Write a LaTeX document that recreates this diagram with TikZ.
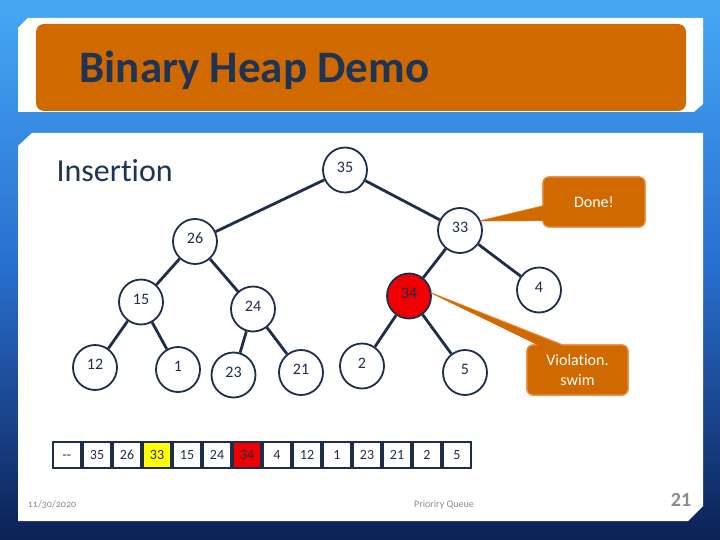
\documentclass[tikz,border=0pt]{standalone}
\usepackage{fontspec}
\setmainfont{Carlito}[Ligatures={NoCommon}]
\usetikzlibrary{shapes.geometric,calc}
\definecolor{navy}{RGB}{30,45,75}
\definecolor{titlenavy}{RGB}{31,52,84}
\definecolor{orng}{RGB}{208,105,0}
\definecolor{orngb}{RGB}{236,140,70}
\definecolor{bgtop}{RGB}{70,168,245}
\definecolor{bgmid}{RGB}{40,110,205}
\definecolor{bgbot}{RGB}{12,33,85}
\definecolor{foot}{RGB}{140,140,140}
\definecolor{redfill}{RGB}{240,0,0}
\definecolor{yel}{RGB}{255,255,0}
\begin{document}
\begin{tikzpicture}[x=1pt,y=-1pt,
  hnode/.style={ellipse, draw=navy, line width=1.8pt, fill=white, minimum width=44pt, minimum height=45pt, inner sep=0pt, font=\fontsize{16}{16}\selectfont, text=navy, text height=8pt, text depth=3.7pt},
  edge/.style={draw=navy, line width=2.8pt},
  cell/.style={rectangle, draw=navy, line width=2.2pt, fill=white, minimum width=28pt, minimum height=26pt, inner sep=0pt, font=\fontsize{14}{14}\selectfont, text=navy, text height=9pt, text depth=0pt},
  callout/.style={rectangle, rounded corners=6pt, fill=orng, draw=orngb, line width=1.2pt, text=white, align=center, font=\fontsize{16}{20}\selectfont, inner sep=0pt},
  wedge/.style={fill=orng, draw=orngb, line width=1.2pt, line join=round}
]
\useasboundingbox (0,0) rectangle (720,540);
\shade[top color=bgtop, bottom color=bgbot, middle color=bgmid] (0,0) rectangle (720,540);
% title panel
\fill[white] (18,28) -- (28,18) -- (703,18) -- (703,104) -- (694,112) -- (18,112) -- cycle;
\fill[orng, rounded corners=8pt] (36,24) rectangle (686,111);
\node[anchor=west, font=\fontsize{45}{45}\selectfont\bfseries, text=titlenavy] (title) at (76,70) {Binary Heap Demo};
% content panel
\fill[white] (18,146) -- (32,133) -- (703,133) -- (703,506) -- (688,521) -- (18,521) -- cycle;
\node[anchor=west, font=\fontsize{32}{32}\selectfont, text=titlenavy] (ins) at (53,171) {Insertion};
% heap nodes
\node[hnode] (n35) at (345,170) {35};
\node[hnode] (n26) at (195,241.5) {26};
\node[hnode] (n33) at (460,230.5) {33};
\node[hnode] (n15) at (141,302) {15};
\node[hnode] (n24) at (253,309) {24};
\node[hnode, fill=redfill] (n34) at (409,296) {34};
\node[hnode] (n4) at (539,290) {4};
\node[hnode] (n12) at (95,367.5) {12};
\node[hnode] (n1) at (178,369.5) {1};
\node[hnode] (n23) at (233.5,375) {23};
\node[hnode] (n21) at (301,372.5) {21};
\node[hnode] (n2) at (362,366) {2};
\node[hnode] (n5) at (465,372.5) {5};
\foreach \a/\b in {n35/n26,n35/n33,n26/n15,n26/n24,n33/n34,n33/n4,n15/n12,n15/n1,n24/n23,n24/n21,n34/n2,n34/n5}
  \draw[edge] (\a) -- (\b);
% callouts
\node[callout, minimum width=102pt, minimum height=50pt] (done) at (594,202) {Done!};
\node[callout, minimum width=101pt, minimum height=50pt] (viol) at (577.5,370) {Violation.\\swim};
\filldraw[wedge] (n33.25) -- ($(done.south west)+(2,-7)$) -- ($(done.south west)+(2,-22)$) -- cycle;
\filldraw[wedge] (n34.7) -- ($(viol.north west)+(16,2)$) -- ($(viol.north west)+(40,2)$) -- cycle;
\node[callout, minimum width=102pt, minimum height=50pt] at (done) {Done!};
\node[callout, minimum width=101pt, minimum height=50pt] at (viol) {Violation.\\swim};
\fill[orng] (n33.25) -- ($(done.south west)+(3,-7)$) -- ($(done.south west)+(3,-22)$) -- cycle;
\fill[orng] (n34.7) -- ($(viol.north west)+(16,3)$) -- ($(viol.north west)+(40,3)$) -- cycle;
% array
\foreach \v [count=\i from 0] in {{-}{-},35,26,33,15,24,34,4,12,1,23,21,2,5}
  \node[cell] (c\i) at (67+30*\i,455) {\v};
\node[cell, fill=yel] (c3) at (157,455) {33};
\node[cell, fill=redfill] (c6) at (247,455) {34};
% footer
\node[font=\fontsize{10}{10}\selectfont\addfontfeatures{Numbers=OldStyle}, text=foot] (date) at (52,505) {11/30/2020};
\node[font=\fontsize{10}{10}\selectfont, text=foot] (pq) at (444,505) {Prioriry Queue};
\node[font=\fontsize{20}{20}\selectfont\bfseries, text=foot] (pg) at (681,500) {21};
\end{tikzpicture}
\end{document}
